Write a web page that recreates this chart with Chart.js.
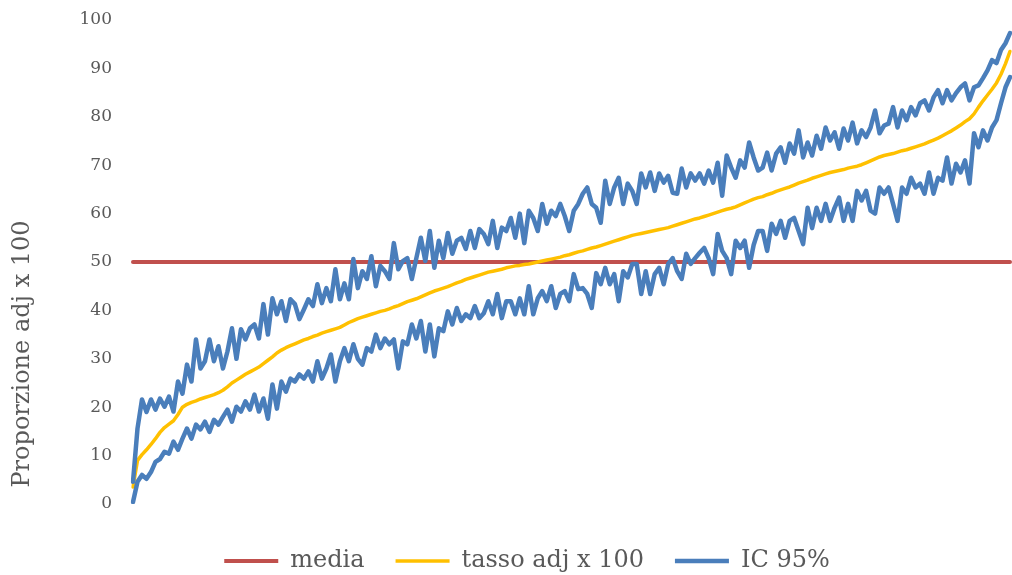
<!DOCTYPE html>
<html><head><meta charset="utf-8">
<script src="https://cdn.jsdelivr.net/npm/chart.js@4.4.1/dist/chart.umd.min.js"></script>
<style>html,body{margin:0;padding:0;background:#fff;overflow:hidden}</style>
</head><body>
<canvas id="c" width="1012" height="575"></canvas>
<script>
const seriesNames = ['media', 'tasso adj x 100', 'IC 95%'];
const yAxisTitle = 'Proporzione adj x 100';
const yMin = 0, yMax = 100, yStep = 10;
const mediaValue = 50;

const tasso = [
3.5, 9.0, 10.2, 11.2, 12.3, 13.5, 14.8, 15.8, 16.5, 17.2, 18.5, 20.0, 20.6, 21.0, 21.3, 21.7, 22.0, 22.3, 22.6, 23.0, 23.5, 24.2, 25.0, 25.6, 26.2, 26.8, 27.3, 27.8,
28.3, 29.0, 29.7, 30.4, 31.2, 31.8, 32.3, 32.7, 33.1, 33.5, 33.9, 34.2, 34.6, 34.9, 35.3, 35.6, 35.9, 36.2, 36.5, 37.0, 37.5, 37.9, 38.3, 38.6, 38.9, 39.2, 39.5, 39.8,
40.0, 40.3, 40.7, 41.0, 41.4, 41.8, 42.1, 42.4, 42.8, 43.2, 43.6, 44.0, 44.3, 44.6, 44.9, 45.3, 45.7, 46.0, 46.4, 46.7, 47.0, 47.3, 47.6, 47.9, 48.1, 48.3, 48.5, 48.8,
49.0, 49.2, 49.3, 49.5, 49.6, 49.8, 50.0, 50.2, 50.4, 50.6, 50.8, 51.0, 51.3, 51.5, 51.8, 52.1, 52.3, 52.6, 52.9, 53.1, 53.4, 53.7, 54.0, 54.3, 54.6, 54.9, 55.2, 55.5,
55.7, 55.9, 56.1, 56.3, 56.5, 56.7, 56.9, 57.1, 57.4, 57.7, 58.0, 58.3, 58.6, 58.9, 59.1, 59.4, 59.7, 60.0, 60.3, 60.6, 60.9, 61.1, 61.4, 61.8, 62.2, 62.6, 63.0, 63.3,
63.5, 63.9, 64.2, 64.6, 64.9, 65.2, 65.5, 65.9, 66.3, 66.6, 66.9, 67.3, 67.6, 67.9, 68.2, 68.5, 68.7, 68.9, 69.1, 69.4, 69.6, 69.8, 70.1, 70.5, 70.9, 71.3, 71.7, 72.0,
72.2, 72.4, 72.7, 73.0, 73.2, 73.5, 73.8, 74.1, 74.4, 74.8, 75.2, 75.6, 76.1, 76.6, 77.1, 77.7, 78.3, 79.0, 79.6, 80.6, 82.0, 83.3, 84.5, 85.7, 87.0, 88.8, 91.0, 93.5
];

const icUpper = [
4.6, 15.6, 21.6, 19.0, 21.6, 19.5, 21.8, 20.1, 22.2, 19.1, 25.3, 22.8, 28.8, 25.3, 34.0, 28.0, 29.5, 34.0, 29.5, 32.6, 28.0, 31.5, 36.3, 30.0, 36.1, 34.0, 36.3, 37.1,
34.2, 41.3, 35.0, 42.5, 39.2, 41.9, 37.8, 42.3, 41.3, 38.2, 40.2, 42.3, 40.9, 45.4, 41.5, 44.6, 41.9, 48.5, 42.3, 45.6, 42.3, 50.6, 44.6, 48.1, 46.5, 51.2, 45.0, 49.2,
48.1, 46.5, 53.9, 48.5, 50.2, 50.8, 46.5, 50.8, 55.0, 50.2, 56.4, 48.8, 54.4, 50.8, 56.0, 51.7, 54.4, 55.0, 52.7, 56.4, 52.9, 56.8, 55.8, 53.7, 58.5, 52.9, 57.1, 56.4,
59.1, 55.0, 60.0, 53.9, 60.6, 59.1, 56.4, 62.0, 57.9, 60.6, 59.5, 62.0, 59.5, 56.4, 60.6, 62.0, 64.1, 65.4, 62.0, 61.2, 58.1, 66.8, 62.0, 65.4, 67.4, 62.0, 66.2, 64.7,
62.0, 68.3, 65.4, 68.5, 64.7, 68.3, 66.4, 67.8, 64.3, 64.1, 69.3, 65.4, 68.3, 66.8, 68.3, 66.2, 68.9, 66.4, 70.5, 63.7, 72.0, 69.5, 67.4, 71.0, 69.5, 74.7, 71.6, 68.9,
69.5, 72.6, 68.9, 72.4, 73.7, 70.5, 74.5, 72.4, 77.2, 71.6, 74.7, 72.0, 76.1, 73.4, 77.8, 75.1, 76.8, 73.4, 77.6, 75.1, 78.8, 74.5, 77.2, 75.8, 77.8, 81.3, 76.6, 78.2,
78.6, 82.0, 77.8, 81.3, 79.3, 82.0, 80.3, 82.8, 83.4, 81.3, 84.0, 85.5, 82.8, 85.5, 83.4, 84.9, 86.1, 86.9, 83.4, 86.1, 86.5, 88.0, 89.6, 91.7, 91.1, 93.8, 95.2, 97.3
];

const icLower = [
0.4, 4.6, 6.0, 5.2, 6.6, 8.7, 9.3, 10.8, 10.4, 12.9, 11.2, 13.5, 15.6, 13.5, 16.4, 15.4, 17.0, 14.9, 17.4, 16.4, 18.0, 19.5, 17.0, 20.1, 19.1, 21.2, 19.5, 22.6,
19.1, 21.8, 17.6, 24.7, 19.7, 25.3, 23.2, 25.9, 25.3, 26.8, 25.9, 27.4, 25.3, 29.5, 25.9, 28.0, 30.9, 25.3, 29.5, 32.2, 29.5, 33.0, 30.0, 28.8, 32.2, 31.5, 35.0, 32.2,
34.2, 33.0, 34.0, 28.0, 33.6, 33.0, 37.1, 34.2, 37.8, 31.5, 37.1, 30.5, 36.3, 35.7, 39.8, 37.1, 40.5, 37.8, 39.2, 38.4, 40.9, 38.4, 39.4, 41.9, 39.2, 43.4, 38.4, 41.9,
41.9, 39.2, 42.5, 39.2, 45.0, 39.2, 42.5, 44.0, 41.9, 45.0, 40.5, 43.4, 44.0, 41.9, 47.5, 44.4, 44.6, 43.4, 40.5, 47.7, 45.4, 48.8, 45.4, 47.5, 41.9, 48.1, 46.8, 49.6,
49.6, 43.4, 48.1, 43.4, 47.5, 48.8, 45.4, 49.6, 50.8, 48.1, 46.5, 51.7, 49.6, 50.8, 51.9, 52.9, 50.8, 47.5, 55.8, 52.3, 50.8, 47.5, 54.4, 52.9, 54.4, 48.8, 53.5, 56.4,
56.4, 52.3, 57.9, 55.8, 58.5, 55.0, 58.5, 59.1, 56.4, 53.7, 61.2, 57.0, 61.2, 58.5, 62.0, 58.5, 61.2, 63.3, 58.5, 62.0, 58.5, 64.7, 62.7, 64.7, 60.6, 60.0, 65.4, 64.1,
65.4, 62.0, 58.5, 65.4, 64.1, 67.4, 65.4, 66.2, 64.1, 68.5, 64.1, 67.4, 66.8, 71.6, 66.2, 70.3, 68.5, 71.0, 66.2, 76.6, 73.7, 77.2, 75.1, 77.8, 79.3, 82.8, 86.1, 88.2
];

const labels = tasso.map((_, i) => String(i + 1));
const media = labels.map(() => mediaValue);

const textColor = '#595959';
const serif = '"DejaVu Serif", serif';

const yTitlePlugin = {
  id: 'yTitle',
  afterDraw(chart) {
    const ctx = chart.ctx;
    const area = chart.chartArea;
    ctx.save();
    ctx.translate(22.5, area.top + (area.bottom - area.top) * 0.69);
    ctx.rotate(-Math.PI / 2);
    ctx.font = '24px ' + serif;
    ctx.fillStyle = textColor;
    ctx.textAlign = 'center';
    ctx.textBaseline = 'middle';
    ctx.fillText(yAxisTitle, 0, 0);
    ctx.restore();
  }
};

const lineBase = { pointRadius: 0, pointHoverRadius: 0, tension: 0, borderJoinStyle: 'round', borderCapStyle: 'round', fill: false };

new Chart(document.getElementById('c'), {
  type: 'line',
  data: {
    labels: labels,
    datasets: [
      Object.assign({ label: seriesNames[0], data: media, borderColor: '#C0504D', backgroundColor: '#C0504D', borderWidth: 4, order: 3 }, lineBase),
      Object.assign({ label: seriesNames[1], data: tasso, borderColor: '#FFC000', backgroundColor: '#FFC000', borderWidth: 3.5, order: 2 }, lineBase),
      Object.assign({ label: seriesNames[2], data: icUpper, borderColor: '#4A7EBB', backgroundColor: '#4A7EBB', borderWidth: 4.5, order: 1 }, lineBase),
      Object.assign({ label: seriesNames[2] + ' inf', data: icLower, borderColor: '#4A7EBB', backgroundColor: '#4A7EBB', borderWidth: 4.5, order: 1 }, lineBase)
    ]
  },
  options: {
    responsive: false,
    animation: false,
    devicePixelRatio: 1,
    layout: { padding: { left: 44, right: 2, top: 20, bottom: -8 } },
    plugins: {
      tooltip: { enabled: false },
      legend: {
        position: 'bottom',
        labels: {
          usePointStyle: true,
          pointStyle: 'line',
          pointStyleWidth: 54,
          padding: 31,
          color: textColor,
          font: { family: serif, size: 24 },
          filter: (item) => item.datasetIndex < 3,
          sort: (a, b) => a.datasetIndex - b.datasetIndex
        }
      }
    },
    scales: {
      x: {
        type: 'category',
        offset: false,
        ticks: { display: false },
        grid: { display: false, drawTicks: false },
        border: { display: false },
        afterFit(scale) { scale.height = 14; }
      },
      y: {
        min: yMin, max: yMax,
        ticks: { stepSize: yStep, color: textColor, font: { family: serif, size: 17 }, padding: 21 },
        grid: { display: false, drawTicks: false },
        border: { display: false },
        afterFit(scale) { scale.width = 89; scale.paddingTop = 0; scale.paddingBottom = 0; }
      }
    }
  },
  plugins: [yTitlePlugin]
});
</script>
</body></html>
